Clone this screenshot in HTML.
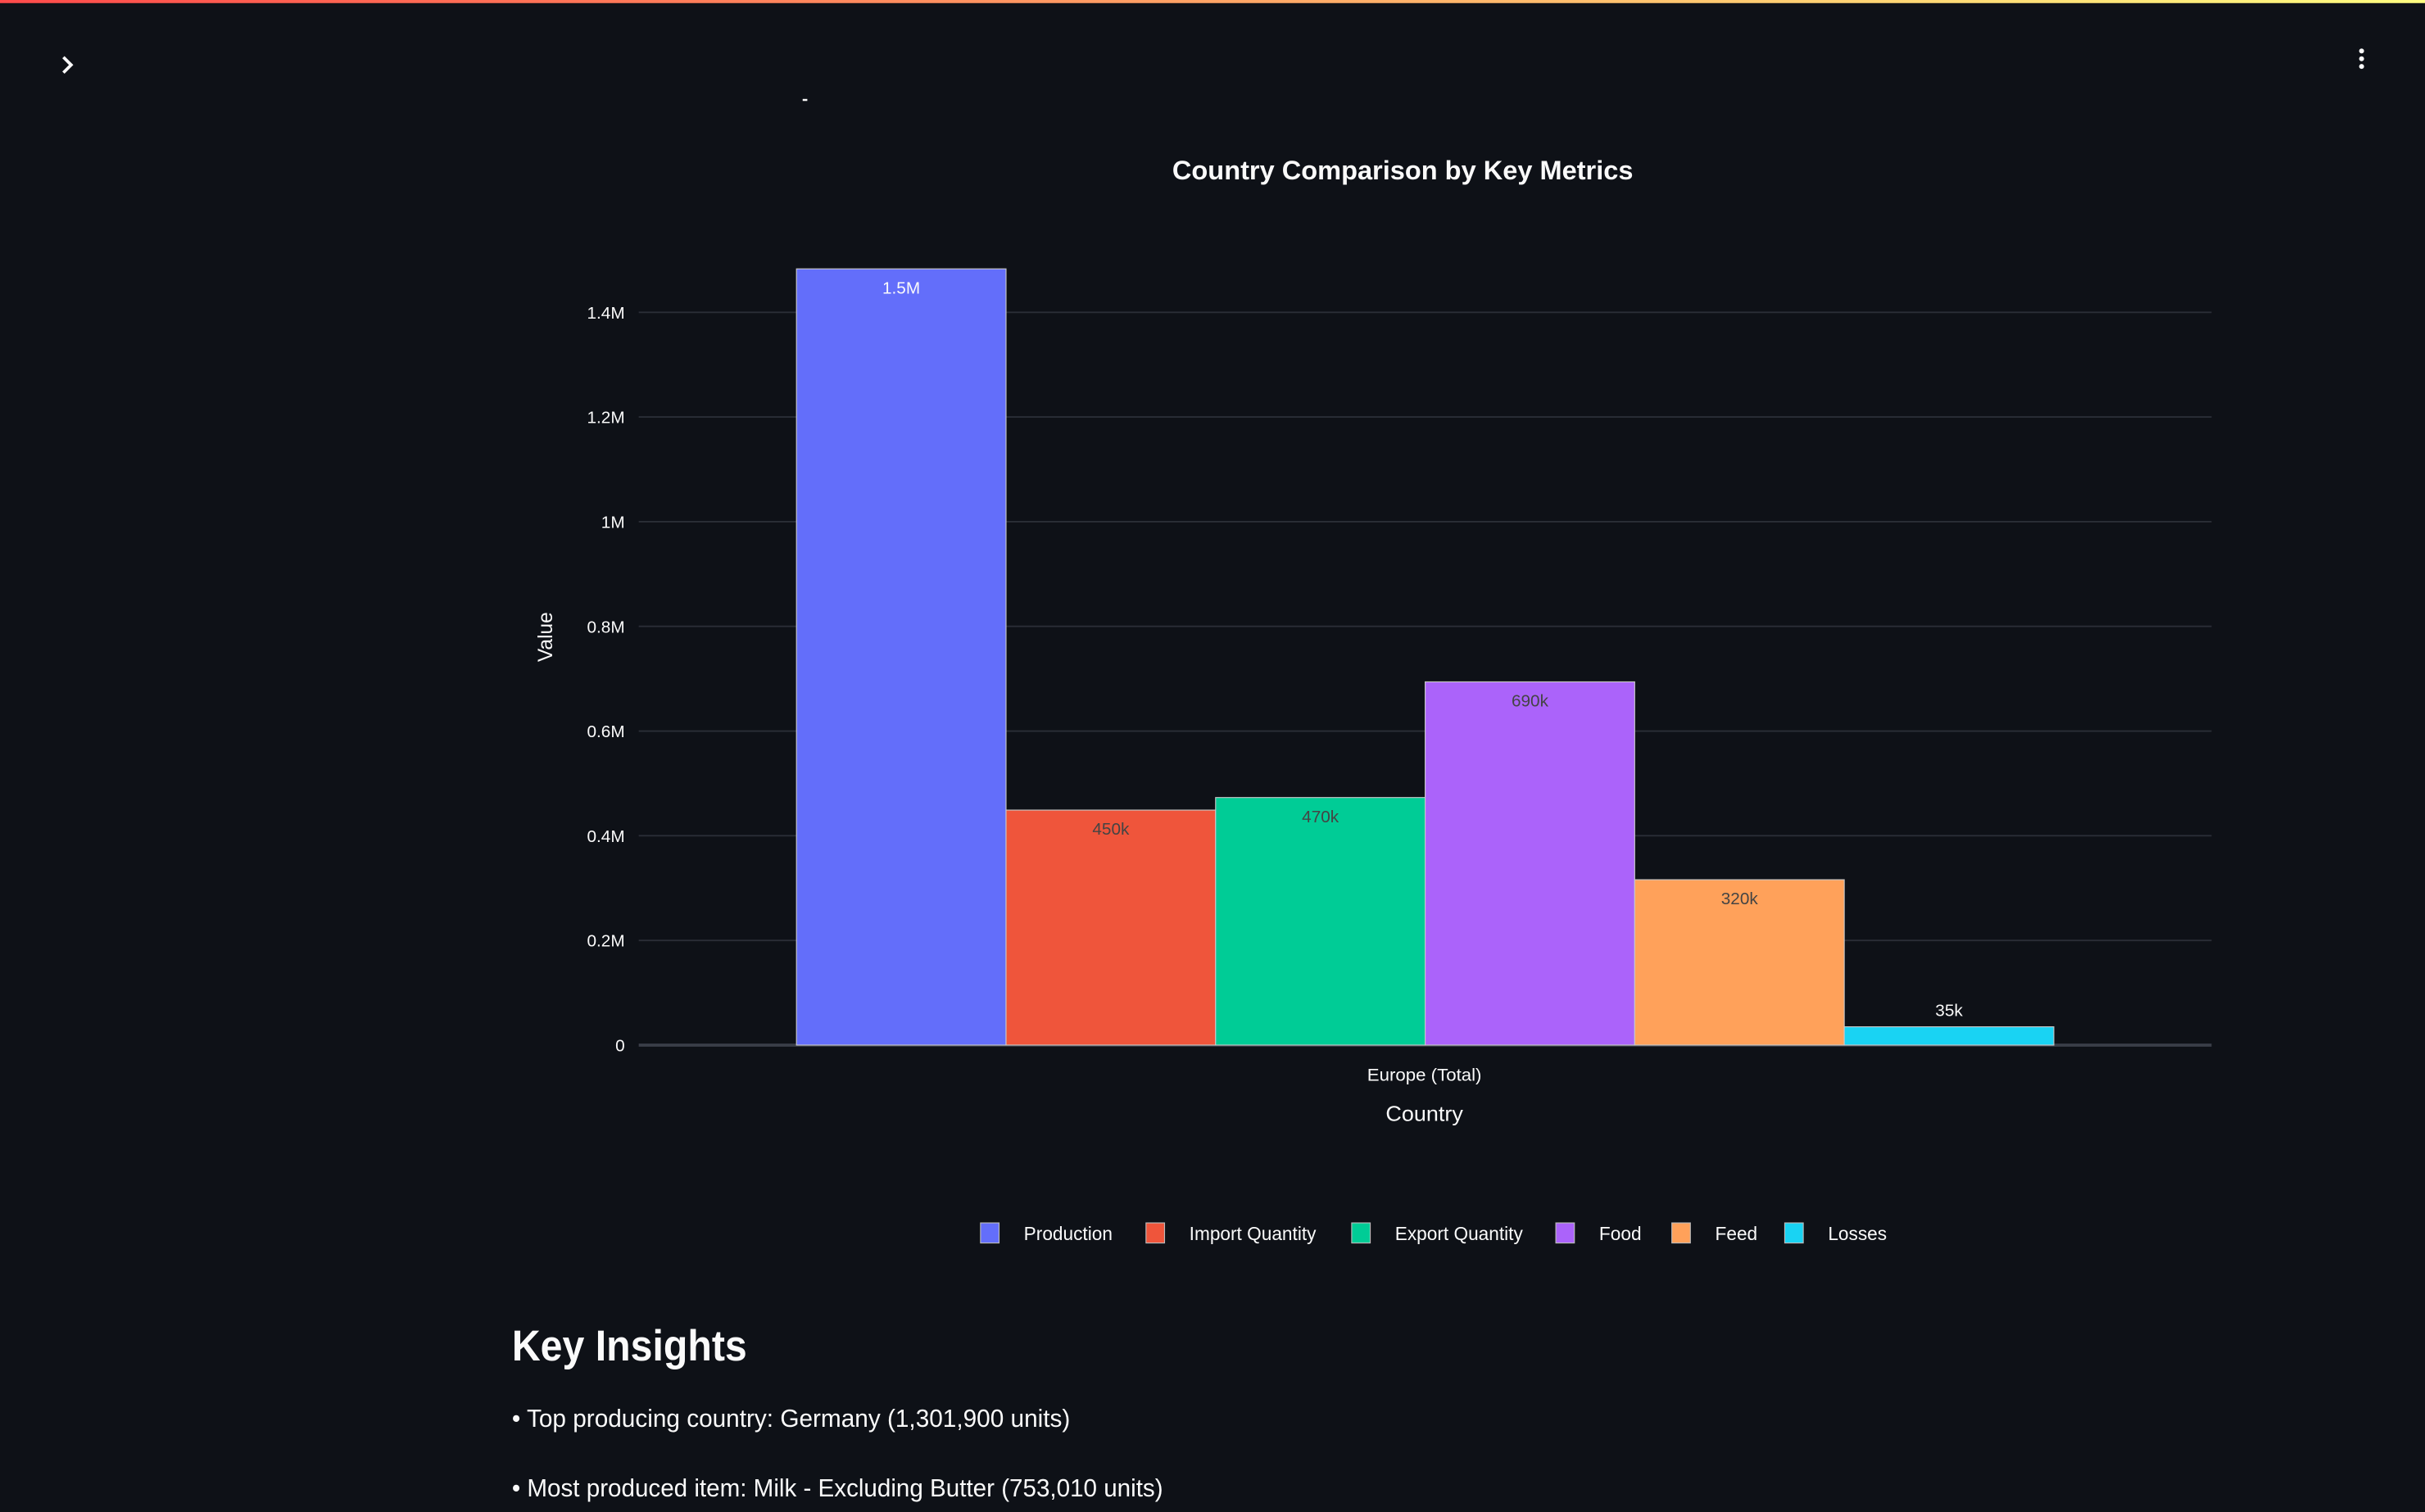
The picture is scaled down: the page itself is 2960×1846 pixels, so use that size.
<!DOCTYPE html>
<html><head><meta charset="utf-8"><style>
html,body{margin:0;padding:0;background:#0e1117;}
svg{display:block;font-family:"Liberation Sans",sans-serif;}
</style></head><body>
<svg id="chart" width="2960" height="1846" viewBox="0 0 1568 978" preserveAspectRatio="none" xmlns="http://www.w3.org/2000/svg">
<defs><linearGradient id="tg" x1="0" x2="1"><stop offset="0" stop-color="#ff4b4b"/><stop offset="1" stop-color="#fffd80"/></linearGradient></defs>
<rect width="1568" height="978" fill="#0e1117"/>
<rect width="1568" height="2" fill="url(#tg)"/>
<path d="M41 37 L46 42 L41 47" stroke="#fafafa" stroke-width="2" fill="none"/>
<g fill="#fafafa"><circle cx="1527" cy="33" r="1.6"/><circle cx="1527" cy="38" r="1.6"/><circle cx="1527" cy="43" r="1.6"/></g>
<rect x="519" y="64" width="3" height="1.3" fill="#fafafa"/>
<text x="907" y="116" text-anchor="middle" fill="#fafafa" font-size="17" font-weight="bold" textLength="298" lengthAdjust="spacingAndGlyphs">Country Comparison by Key Metrics</text>
<g id="grid"></g>
<g id="bars"></g>
<text transform="translate(357,412) rotate(-90)" text-anchor="middle" fill="#fafafa" font-size="13">Value</text>
<text x="921" y="699" text-anchor="middle" fill="#fafafa" font-size="11.5" textLength="74" lengthAdjust="spacingAndGlyphs">Europe (Total)</text>
<text x="921" y="725" text-anchor="middle" fill="#fafafa" font-size="13.5" textLength="50" lengthAdjust="spacingAndGlyphs">Country</text>
<g id="legend"></g>
<text x="331" y="880" fill="#fafafa" font-size="28" font-weight="bold" textLength="152" lengthAdjust="spacingAndGlyphs">Key Insights</text>
<text x="331" y="923" fill="#fafafa" font-size="16" textLength="361" lengthAdjust="spacingAndGlyphs">• Top producing country: Germany (1,301,900 units)</text>
<text x="331" y="968" fill="#fafafa" font-size="16" textLength="421" lengthAdjust="spacingAndGlyphs">• Most produced item: Milk - Excluding Butter (753,010 units)</text>
</svg>
<script>
const series = ["Production","Import Quantity","Export Quantity","Food","Feed","Losses"];
const values = [1483000, 449000, 473000, 694000, 316000, 35000];
const labels = ["1.5M","450k","470k","690k","320k","35k"];
const colors = ["#636efa","#ef553b","#00cc96","#ab63fa","#ffa15a","#19d3f3"];
const yTicks = [0,200000,400000,600000,800000,1000000,1200000,1400000];
const yTickLabels = ["0","0.2M","0.4M","0.6M","0.8M","1M","1.2M","1.4M"];
const legendX = [634,741,874,1006,1081,1154];
const NS="http://www.w3.org/2000/svg";
const x0=413,x1=1430,yZero=676,yPerUnit=(676-202)/1400000;
const y=v=>yZero-v*yPerUnit;
const groupL=515,groupR=1328,bw=(groupR-groupL)/series.length;
const xb=i=>groupL+i*bw;
function mk(t,a,p){const e=document.createElementNS(NS,t);for(const k in a)e.setAttribute(k,a[k]);p.appendChild(e);return e;}
const grid=document.getElementById('grid');
yTicks.forEach((v,i)=>{
  if(v>0){const l=mk('line',{x1:x0,x2:x1,y1:y(v),y2:y(v),stroke:'#2a2e37','stroke-width':1},grid);
  
  }
  const t=mk('text',{x:404,y:y(v)+4,'text-anchor':'end',fill:'#fafafa','font-size':11},grid);
  
  
  t.textContent=yTickLabels[i];
});
const zl=mk('line',{x1:x0,x2:x1,y1:yZero,y2:yZero,stroke:'#3a3e48','stroke-width':2},grid);


const bars=document.getElementById('bars');
values.forEach((v,i)=>{
  const r=mk('rect',{x:xb(i),y:y(v),width:bw,height:yZero-y(v),fill:colors[i],stroke:'#c8c8c8','stroke-width':0.6},bars);
  
  
  const inside=(yZero-y(v))>30;
  const dark=i>0&&inside;
  const t=mk('text',{x:xb(i)+bw/2,y:inside?y(v)+16:y(v)-7,'text-anchor':'middle',fill:dark?'#444444':'#fafafa','font-size':11},bars);
  
  
  t.textContent=labels[i];
});
const leg=document.getElementById('legend');
series.forEach((s,i)=>{
  const g=mk('g',{},leg);
  
  
  mk('rect',{x:legendX[i],y:791,width:12,height:13,fill:colors[i],stroke:'#bbbbbb','stroke-width':0.6},g);
  const t=mk('text',{x:legendX[i]+28,y:802,fill:'#fafafa','font-size':12},g);
  t.textContent=s;
});
</script>
</body></html>
